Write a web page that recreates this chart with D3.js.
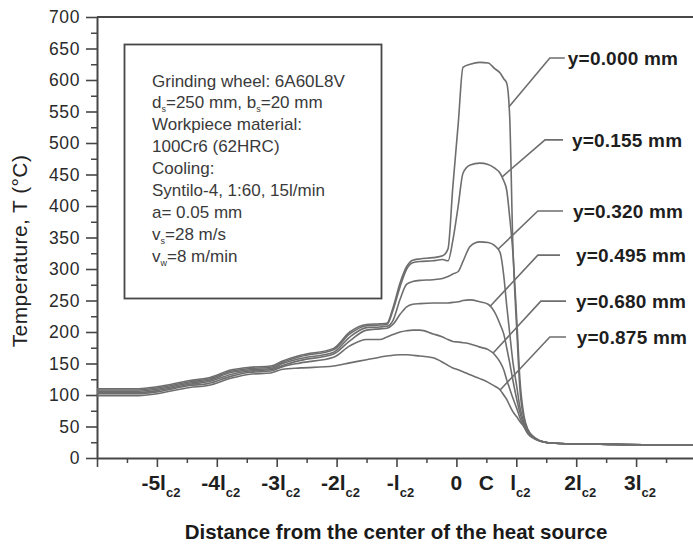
<!DOCTYPE html>
<html><head><meta charset="utf-8">
<script src="https://cdn.jsdelivr.net/npm/d3@7"></script>
<style>
html,body{margin:0;padding:0;background:#fff;}
svg{display:block;}
text{font-family:"Liberation Sans",Arial,Helvetica,sans-serif;}
</style></head>
<body><svg id="chart" width="693" height="544"></svg>
<script>
// ---------- DATA ----------
// distance from heat-source centre, in units of l_c2
const positions = [-6, -5.3, -5, -4.45, -4.15, -3.75, -3.45, -3.1, -2.9, -2.6, -2.05, -1.78, -1.5, -1.28, -1.16, -1.06, -0.94, -0.83, -0.73, -0.61, -0.39, -0.23, -0.14, -0.06, 0.03, 0.11, 0.23, 0.39, 0.53, 0.64, 0.73, 0.79, 0.84, 0.89, 0.94, 1.01, 1.06, 1.13, 1.19, 1.31, 1.48, 1.73, 2.4, 3.23, 4.0];

const seriesNames = ["y=0.000 mm", "y=0.155 mm", "y=0.320 mm", "y=0.495 mm", "y=0.680 mm", "y=0.875 mm"];

const temp_y0000 = [110, 110, 113, 123, 127, 140, 144, 146, 154, 163, 174, 200, 212, 213, 214, 238, 278, 304, 314, 316, 318, 321, 332, 430, 530, 620, 625, 628, 627, 618, 611, 602, 595, 541, 346, 200, 110, 62, 45, 32, 25, 23, 22, 21, 21];
const temp_y0155 = [108, 108, 111, 121, 125, 138, 142, 144, 152, 161, 172, 197, 210, 211, 212, 234, 272, 300, 310, 312, 313, 315, 313, 345, 400, 452, 465, 468, 466, 460, 452, 440, 425, 382, 330, 215, 125, 66, 46, 32, 25, 23, 22, 21, 21];
const temp_y0320 = [106, 106, 109, 119, 123, 136, 140, 142, 150, 158, 168, 192, 207, 208, 209, 218, 252, 276, 280, 282, 283, 285, 288, 292, 296, 312, 336, 343, 342, 337, 326, 290, 242, 198, 155, 112, 81, 55, 41, 31, 25, 23, 22, 21, 21];
const temp_y0495 = [104, 104, 107, 117, 121, 133, 138, 140, 147, 155, 165, 186, 203, 205, 206, 212, 228, 240, 244, 245, 246, 246, 246, 247, 248, 250, 251, 248, 244, 231, 212, 197, 175, 151, 125, 92, 72, 52, 40, 31, 25, 23, 22, 21, 21];
const temp_y0680 = [102, 102, 105, 115, 118, 130, 136, 138, 145, 151, 160, 178, 188, 188, 192, 196, 200, 202, 203, 203, 197, 192, 188, 185, 184, 183, 181, 176, 172, 164, 152, 140, 124, 110, 96, 78, 64, 49, 39, 30, 25, 23, 22, 21, 21];
const temp_y0875 = [99, 99, 102, 112, 115, 127, 133, 135, 141, 143, 146, 151, 156, 160, 162, 163, 164, 164, 163, 162, 159, 152, 147, 143, 140, 137, 132, 126, 120, 114, 108, 100, 93, 83, 74, 65, 58, 50, 42, 31, 25, 23, 22, 21, 21];

const yTickValues = [0, 50, 100, 150, 200, 250, 300, 350, 400, 450, 500, 550, 600, 650, 700];
const xTickValues = [-5, -4, -3, -2, -1, 0, 0.5, 1, 2, 3];
const xTickMain = ["-5l", "-4l", "-3l", "-2l", "-l", "0", "C", "l", "2l", "3l"];
const xTickSub  = ["c2", "c2", "c2", "c2", "c2", "", "", "c2", "c2", "c2"];

const legendLines = [
  [["Grinding wheel: 6A60L8V", 0]],
  [["d", 0], ["s", 1], ["=250 mm, b", 0], ["s", 1], ["=20 mm", 0]],
  [["Workpiece material:", 0]],
  [["100Cr6 (62HRC)", 0]],
  [["Cooling:", 0]],
  [["Syntilo-4, 1:60, 15l/min", 0]],
  [["a= 0.05 mm", 0]],
  [["v", 0], ["s", 1], ["=28 m/s", 0]],
  [["v", 0], ["w", 1], ["=8 m/min", 0]]
];

const xTitle = "Distance from the center of the heat source";
const yTitle = "Temperature, T (\u00B0C)";

// ---------- DRAW ----------
const allSeries = [temp_y0000, temp_y0155, temp_y0320, temp_y0495, temp_y0680, temp_y0875];
const svg = d3.select("#chart");
svg.append("rect").attr("width", 693).attr("height", 544).attr("fill", "#fff");

const x = d3.scaleLinear().domain([-6, 4]).range([97, 696]);
const y = d3.scaleLinear().domain([0, 700]).range([458, 17]);

const axisColor = "#474747";
const curveColor = "#6e6e6e";

// top frame line
svg.append("line")
  .attr("x1", x(-6)).attr("x2", x(4)).attr("y1", y(700)).attr("y2", y(700))
  .attr("stroke", axisColor).attr("stroke-width", 2);

// Y axis
const gy = svg.append("g").attr("transform", `translate(${x(-6)},0)`)
  .call(d3.axisLeft(y).tickValues(yTickValues).tickSize(11).tickPadding(6).tickSizeOuter(0));
gy.select(".domain").attr("stroke", axisColor).attr("stroke-width", 2);
gy.selectAll(".tick line").attr("stroke", axisColor).attr("stroke-width", 1.6);
gy.selectAll(".tick text").attr("font-size", 17.5).attr("fill", "#2a2a2a")
  .attr("letter-spacing", 0.6).attr("font-family", "Liberation Sans, Arial, sans-serif");

const gyMinor = svg.append("g").attr("transform", `translate(${x(-6)},0)`)
  .call(d3.axisLeft(y).tickValues(d3.range(25, 700, 50)).tickSize(6).tickFormat("").tickSizeOuter(0));
gyMinor.select(".domain").remove();
gyMinor.selectAll(".tick line").attr("stroke", axisColor).attr("stroke-width", 1.5);

// X axis
const gx = svg.append("g").attr("transform", `translate(0,${y(0)})`)
  .call(d3.axisBottom(x).tickValues(d3.range(-6, 4.01, 1)).tickSize(9).tickFormat("").tickSizeOuter(0));
gx.select(".domain").attr("stroke", axisColor).attr("stroke-width", 2);
gx.selectAll(".tick line").attr("stroke", axisColor).attr("stroke-width", 1.6);

const gxMinor = svg.append("g").attr("transform", `translate(0,${y(0)})`)
  .call(d3.axisBottom(x).tickValues(d3.range(-5.5, 4, 1)).tickSize(5).tickFormat("").tickSizeOuter(0));
gxMinor.select(".domain").remove();
gxMinor.selectAll(".tick line").attr("stroke", axisColor).attr("stroke-width", 1.5);

// X tick labels with subscripts
xTickValues.forEach((v, i) => {
  const t = svg.append("text")
    .attr("x", x(v) + (xTickSub[i] ? 4 : 0))
    .attr("y", 490)
    .attr("text-anchor", "middle")
    .attr("font-size", 21).attr("font-weight", "bold").attr("fill", "#1e1e1e");
  t.append("tspan").text(xTickMain[i]);
  if (xTickSub[i]) t.append("tspan").attr("font-size", 13).attr("dy", 7).text(xTickSub[i]);
});

// Axis titles
svg.append("text").attr("x", 396).attr("y", 539).attr("text-anchor", "middle")
  .attr("font-size", 20.5).attr("font-weight", "bold").attr("fill", "#1a1a1a").text(xTitle);
svg.append("text").attr("transform", "translate(27,251) rotate(-90)").attr("text-anchor", "middle")
  .attr("font-size", 21).attr("letter-spacing", 0.4).attr("fill", "#222").text(yTitle);

// Legend box
svg.append("rect").attr("x", 124.5).attr("y", 44.5).attr("width", 257).attr("height", 254)
  .attr("fill", "none").attr("stroke", axisColor).attr("stroke-width", 1.8);
legendLines.forEach((segs, i) => {
  const t = svg.append("text").attr("x", 152).attr("y", 86.5 + i * 21.9)
    .attr("font-size", 17).attr("fill", "#3a3a3a");
  let sub = false;
  segs.forEach(([s, isSub]) => {
    const ts = t.append("tspan").text(s);
    if (isSub && !sub) { ts.attr("font-size", 9).attr("dy", 4); sub = true; }
    else if (!isSub && sub) { ts.attr("dy", -4); sub = false; }
  });
});

// Curves
const line = d3.line().x((d, i) => x(positions[i])).y(d => y(d)).curve(d3.curveMonotoneX);
allSeries.forEach(s => {
  svg.append("path").datum(s).attr("d", line)
    .attr("fill", "none").attr("stroke", curveColor).attr("stroke-width", 1.6)
    .attr("stroke-linejoin", "round");
});

// Curve labels with leader lines (layout in data units)
function valueAt(s, u) {
  for (let i = 0; i < positions.length - 1; i++) {
    if (u >= positions[i] && u <= positions[i + 1]) {
      const f = (u - positions[i]) / (positions[i + 1] - positions[i]);
      return s[i] + f * (s[i + 1] - s[i]);
    }
  }
  return s[s.length - 1];
}
const labelLayout = [
  {a: 0.875, eu: 1.56, et: 635, hu: 1.81, tu: 1.86},
  {a: 0.76,  eu: 1.48, et: 505, hu: 1.78, tu: 1.93},
  {a: 0.69,  eu: 1.36, et: 392, hu: 1.78, tu: 1.945},
  {a: 0.56,  eu: 1.36, et: 322, hu: 1.73, tu: 1.995},
  {a: 0.61,  eu: 1.41, et: 249, hu: 1.83, tu: 1.995},
  {a: 0.73,  eu: 1.56, et: 192, hu: 1.83, tu: 2.01}
];
labelLayout.forEach((L, i) => {
  const ax = x(L.a), ay = y(valueAt(allSeries[i], L.a));
  svg.append("polyline")
    .attr("points", `${ax},${ay} ${x(L.eu)},${y(L.et)} ${x(L.hu)},${y(L.et)}`)
    .attr("fill", "none").attr("stroke", curveColor).attr("stroke-width", 1.6);
  svg.append("text").attr("x", x(L.tu)).attr("y", y(L.et) + 7)
    .attr("font-size", 19).attr("font-weight", "bold").attr("letter-spacing", 0.2)
    .attr("fill", "#1e1e1e").text(seriesNames[i]);
});
</script>
</body></html>
